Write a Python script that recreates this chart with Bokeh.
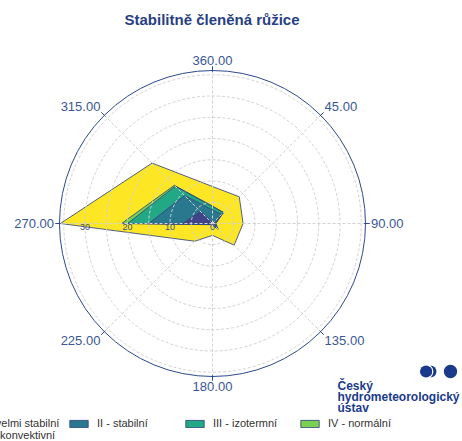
import numpy as np
from bokeh.plotting import figure
from bokeh.models import Range1d, Legend, LegendItem
from bokeh.core.properties import value
from bokeh.embed import file_html
from bokeh.resources import INLINE

# ---------------- data ----------------
directions = [0, 45, 90, 135, 180, 225, 270, 315]
direction_labels = ["360.00", "45.00", "90.00", "135.00", "180.00", "225.00", "270.00", "315.00"]
classes = ["I - velmi stabilní", "II - stabilní", "III - izotermní", "IV - normální", "V - konvektivní"]
class_I = [0.2, 0.2, 0.2, 0.4, 0.1, 0.1, 7.0, 4.0]
class_II = [3.0, 2.8, 0.3, 0.8, 0.1, 0.1, 8.0, 5.3]
class_III = [0.8, 0.6, 0.2, 0.6, 0.1, 0.1, 5.0, 3.1]
class_IV = [0.1, 0.1, 0.1, 0.1, 0.1, 0.1, 1.4, 0.3]
class_V = [4.6, 5.2, 6.4, 5.3, 2.4, 5.5, 14.4, 7.4]
radial_ticks = [0, 10, 20, 30]
radial_tick_labels = ["0", "10", "20", "30"]
grid_rings = [5, 10, 15, 20, 25, 30, 35]
radial_max = 36
title_text = "Stabilitně členěná růžice"
logo_lines = ["Český", "hydrometeorologický", "ústav"]

colors = ["#414487", "#2A788E", "#22A884", "#7AD151", "#FDE725"]
OUTLINE = "#34457f"
BLUE = "#3a5794"

# ---------------- geometry (page px) ----------------
W, H = 462, 441
K = 4.25           # px per radial unit
CX, CY = 212, 223  # polar centre in page px


def px(x):
    return (x - CX) / K


def py(y):
    return (CY - y) / K


p = figure(width=W, height=H, output_backend="svg", toolbar_location=None,
           x_range=Range1d(px(0), px(W)), y_range=Range1d(py(H), py(0)),
           x_axis_location=None, y_axis_location=None, min_border=0,
           background_fill_color="white", border_fill_color="white")
p.grid.visible = False
p.outline_line_color = None

theta = np.radians(directions)
stack = np.cumsum(np.array([class_I, class_II, class_III, class_IV, class_V]), axis=0)

renderers = []
for i in range(len(classes) - 1, -1, -1):
    r = stack[i]
    xs = list(r * np.sin(theta))
    ys = list(r * np.cos(theta))
    rend = p.patch(xs, ys, fill_color=colors[i], fill_alpha=1.0,
                   line_color=OUTLINE, line_width=1, line_alpha=0.85)
    renderers.insert(0, rend)

# grid rings and rays (on top of areas)
p.circle(x=[0] * len(grid_rings), y=[0] * len(grid_rings), radius=grid_rings,
         fill_color=None, line_color="#d2d2d2", line_dash="3 2", line_width=1)
p.segment(x0=[0] * 8, y0=[0] * 8,
          x1=list(radial_max * np.sin(theta)), y1=list(radial_max * np.cos(theta)),
          line_color="#d2d2d2", line_dash="3 2", line_width=1)
# outer circle
p.circle(x=[0], y=[0], radius=[radial_max], fill_color=None, line_color="#2c4a8c", line_width=1)
# ticks
p.segment(x0=list((radial_max - 0.3) * np.sin(theta)), y0=list((radial_max - 0.3) * np.cos(theta)),
          x1=list((radial_max + 1.0) * np.sin(theta)), y1=list((radial_max + 1.0) * np.cos(theta)),
          line_color="#2c4a8c", line_width=1)

# angle labels
r_lab = radial_max + 1.3
aligns = {0: ("center", "bottom"), 45: ("left", "bottom"), 90: ("left", "middle"),
          135: ("left", "top"), 180: ("center", "top"), 225: ("right", "top"),
          270: ("right", "middle"), 315: ("right", "bottom")}
for d, lab in zip(directions, direction_labels):
    a, b = aligns[d]
    t = np.radians(d)
    p.text(x=[r_lab * np.sin(t)], y=[r_lab * np.cos(t)], text=[lab],
           text_align=a, text_baseline=b, text_font=value("Liberation Sans"),
           text_font_size="13px", text_color=BLUE)

# radial tick labels along 270 deg
p.text(x=[-v for v in radial_ticks], y=[-0.1] * len(radial_ticks), text=radial_tick_labels,
       text_align="center", text_baseline="top", text_font=value("Liberation Sans"),
       text_font_size="9px", text_color="#3d4f7a")

# title
p.text(x=[px(211.5)], y=[py(19)], text=[title_text], text_align="center", text_baseline="middle",
       text_font=value("Liberation Sans"), text_font_style="bold", text_font_size="15px",
       text_color="#283f83")

# logo
LOGO = "#1b3a8c"
p.wedge(x=[px(430.0)], y=[py(371)], radius=6.0 / K, start_angle=-np.pi / 2, end_angle=np.pi / 2,
        fill_color=LOGO, line_color=None)
p.arc(x=[px(425.5)], y=[py(371)], radius=6.7 / K, start_angle=-1.4, end_angle=1.4,
      line_color="white", line_width=1.3)
p.circle(x=[px(425.5)], y=[py(371)], radius=6.0 / K, fill_color=LOGO, line_color=None)
p.circle(x=[px(450)], y=[py(371)], radius=6.7 / K, fill_color=LOGO, line_color=None)
p.text(x=[px(337)] * 3, y=[py(378), py(389), py(400)], text=logo_lines,
       text_align="left", text_baseline="top", text_font=value("Liberation Sans"),
       text_font_style="bold", text_font_size="12px", text_color=LOGO)

# legends (one per item, placed like the reference layout)
box_left = [-47, 67, 183, 298, -47]
row = [0, 0, 0, 0, 1]
row_loc = [12, 0]
for i, cls in enumerate(classes):
    leg = Legend(items=[LegendItem(label=cls, renderers=[renderers[i]])],
                 location=(box_left[i], row_loc[row[i]]), orientation="vertical",
                 padding=0, margin=0, spacing=0, border_line_color=None,
                 background_fill_alpha=0, glyph_width=23, glyph_height=9,
                 label_standoff=7, label_height=9, label_text_font_size="11px",
                 label_text_font="Liberation Sans", label_text_color="#333333")
    p.add_layout(leg)

open("out.html", "w").write(file_html(p, INLINE))
